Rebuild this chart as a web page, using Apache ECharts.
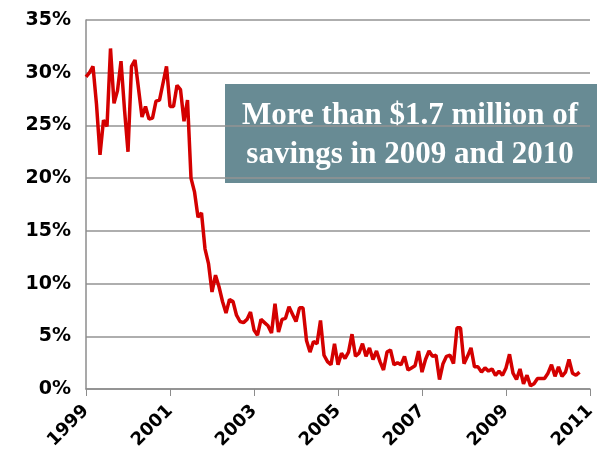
<!DOCTYPE html>
<html><head><meta charset="utf-8">
<script src="https://cdn.jsdelivr.net/npm/echarts@6/dist/echarts.min.js"></script>
<style>html,body{margin:0;padding:0;background:#fff}#c{width:599px;height:457px}</style>
</head><body><div id="c"></div>
<script>
// Monthly values from Jan 1999 to Oct 2010 (percent)
const values = [
29.6,30.0,30.6,27.0,22.2,25.5,24.9,32.3,27.1,28.3,31.1,26.5,
22.5,30.6,31.2,28.5,25.8,26.8,25.6,25.7,27.3,27.4,29.0,30.6,
26.8,26.8,28.8,28.4,25.4,27.4,20.0,18.7,16.3,16.7,13.3,11.9,
9.2,10.8,9.7,8.3,7.2,8.5,8.3,7.0,6.4,6.3,6.6,7.3,
5.6,5.1,6.6,6.3,6.0,5.3,8.1,5.4,6.6,6.7,7.8,7.1,
6.4,7.7,7.7,4.6,3.5,4.5,4.3,6.5,3.2,2.6,2.3,4.3,
2.3,3.4,2.9,3.5,5.2,3.1,3.4,4.3,3.1,3.9,2.8,3.6,
2.6,1.8,3.5,3.7,2.3,2.5,2.3,3.1,1.8,2.0,2.2,3.6,
1.6,2.8,3.6,3.1,3.2,0.9,2.4,3.1,3.2,2.4,5.8,5.8,
2.4,3.1,3.9,2.1,2.1,1.6,2.0,1.7,1.9,1.3,1.7,1.3,
2.0,3.3,1.5,0.9,1.9,0.5,1.3,0.3,0.5,1.0,1.0,1.0,
1.5,2.3,1.2,2.1,1.2,1.6,2.8,1.5,1.3,1.6
];
const startYear = 1999;
const endYear = 2011;
const yTicks = [0,5,10,15,20,25,30,35];
const annotationLines = ["More than $1.7 million of", "savings in 2009 and 2010"];

const nMonths = (endYear - startYear) * 12 + 1;
const categories = [];
for (let i = 0; i < nMonths; i++) {
  const y = startYear + Math.floor(i / 12), m = i % 12 + 1;
  categories.push(y + '-' + (m < 10 ? '0' + m : m));
}
const seriesData = categories.map((c, i) => i < values.length ? values[i] : null);

const chart = echarts.init(document.getElementById('c'), null, {renderer: 'canvas'});
chart.setOption({
  animation: false,
  backgroundColor: '#fff',
  grid: {left: 86, right: 9, top: 20, bottom: 68, containLabel: false},
  xAxis: {
    type: 'category', data: categories, boundaryGap: false,
    axisLine: {lineStyle: {color: '#8c8c8c', width: 1.5}},
    axisTick: {show: true, interval: (i) => i % 24 === 0, length: 7, inside: false, lineStyle: {color: '#8c8c8c', width: 1}},
    axisLabel: {
      interval: (i) => i % 24 === 0, rotate: 45, margin: 19,
      fontFamily: 'DejaVu Sans', fontWeight: 'bold', fontSize: 18, color: '#000',
      formatter: (v) => v.slice(0, 4)
    },
    splitLine: {show: false}
  },
  yAxis: {
    type: 'value', min: yTicks[0], max: yTicks[yTicks.length - 1], interval: 5,
    axisLine: {show: true, lineStyle: {color: '#8c8c8c', width: 1.5}},
    axisTick: {show: false},
    axisLabel: {fontFamily: 'DejaVu Sans', fontWeight: 'bold', fontSize: 19, color: '#000', margin: 15,
      formatter: (v) => v + '%'},
    splitLine: {show: true, lineStyle: {color: '#939393', width: 1.5}}
  },
  series: [{
    type: 'line', data: seriesData, showSymbol: false, connectNulls: false,
    lineStyle: {color: '#d40000', width: 3.5}, itemStyle: {color: '#d40000'}
  }],
  graphic: [{
    type: 'group', left: 225, top: 84,
    children: [
      {type: 'rect', shape: {x: 0, y: 0, width: 372, height: 99}, style: {fill: '#688b94'}},
      {type: 'text', x: 185, y: 32, style: {text: annotationLines[0], fill: '#fff', font: 'bold 31px "Liberation Serif"', align: 'center', verticalAlign: 'middle'}},
      {type: 'text', x: 185, y: 71, style: {text: annotationLines[1], fill: '#fff', font: 'bold 31px "Liberation Serif"', align: 'center', verticalAlign: 'middle'}}
    ]
  }]
});
</script></body></html>
